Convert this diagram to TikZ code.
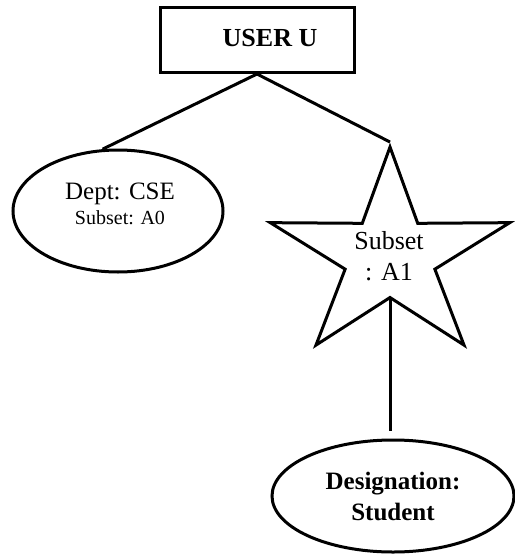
\documentclass[tikz,border=0pt]{standalone}
\usepackage{fontspec}
\setmainfont{Liberation Serif}
\usetikzlibrary{shapes.geometric}
\tikzset{userbox/.style = {rectangle,draw,line width=3pt,minimum width=194pt,minimum height=65pt,inner sep=0pt},
         attr/.style = {ellipse,draw,line width=3pt,inner sep=0pt,align=center},
         starnode/.style = {star,star points=5,star point ratio=2.67,draw,line width=3pt,minimum size=219pt,inner sep=0pt},
         link/.style = {line width=3pt}}

\begin{document}
\begin{tikzpicture}[x=1pt, y=-1pt]
    \useasboundingbox (0,0) rectangle (514,554);

    \node[userbox] (user) at (257,40) {\fontsize{26}{31}\selectfont\bfseries\raisebox{4pt}{\hspace*{26pt}USER U}};

    \node[attr, minimum width=210pt, minimum height=122pt] (dept) at (118,211) {};
    \node[align=center, inner sep=0pt, font=\fontsize{20}{25}\selectfont] (deptlabel) at (120,203.5)
        {{\fontsize{25}{25}\selectfont Dept: CSE}\\Subset: A0};

    \begin{scope}[shift={(390,256.5)}, xscale=1.15]
        \node[starnode, transform shape] (sub) at (0,0) {};
    \end{scope}
    \node[align=center, inner sep=0pt, font=\fontsize{26}{31}\selectfont] (sublabel) at (389,256) {Subset\\: A1};

    \node[attr, minimum width=242pt, minimum height=112pt, font=\fontsize{25}{31}\selectfont\bfseries] (desig) at (393,496)
        {Designation:\\Student};

    \draw[link] (user.south) -- (dept.104);
    \draw[link] (user.south) -- (sub.outer point 1);
    \draw[link, shorten >=8pt] (sub.inner point 3) -- (sub.inner point 3 |- desig.north);
\end{tikzpicture}
\end{document}
